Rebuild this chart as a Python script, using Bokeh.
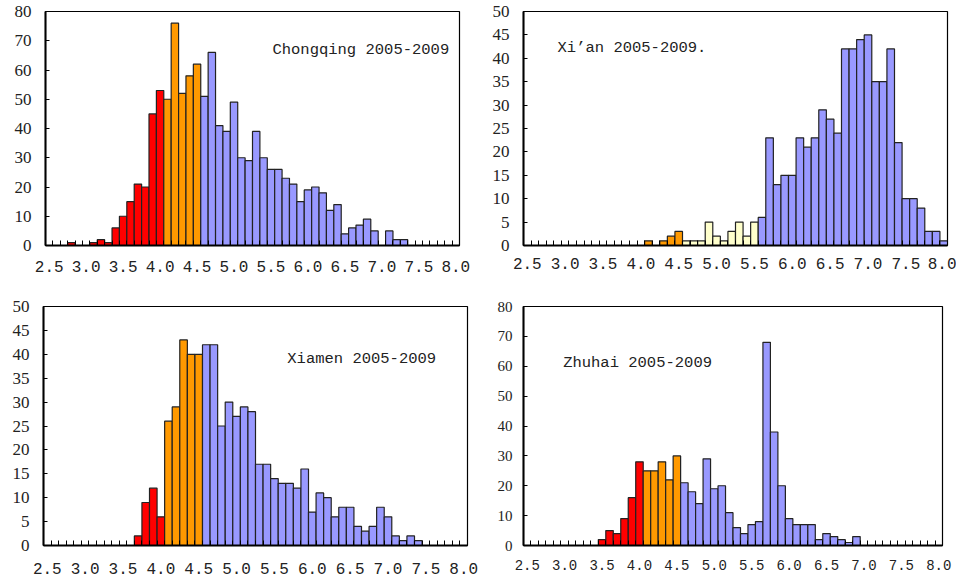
from bokeh.plotting import figure
from bokeh.models import FixedTicker, PrintfTickFormatter, Label, ColumnDataSource
from bokeh.layouts import column, row
from bokeh.embed import file_html
from bokeh.resources import INLINE

# magnitude bins (category labels)
bins = [2.5, 2.6, 2.7, 2.8, 2.9, 3.0, 3.1, 3.2, 3.3, 3.4,
        3.5, 3.6, 3.7, 3.8, 3.9, 4.0, 4.1, 4.2, 4.3, 4.4,
        4.5, 4.6, 4.7, 4.8, 4.9, 5.0, 5.1, 5.2, 5.3, 5.4,
        5.5, 5.6, 5.7, 5.8, 5.9, 6.0, 6.1, 6.2, 6.3, 6.4,
        6.5, 6.6, 6.7, 6.8, 6.9, 7.0, 7.1, 7.2, 7.3, 7.4,
        7.5, 7.6, 7.7, 7.8, 7.9, 8.0]

tick_labels = [2.5, 3.0, 3.5, 4.0, 4.5, 5.0, 5.5, 6.0, 6.5, 7.0, 7.5, 8.0]

chongqing = [0, 0, 0, 1, 0, 0, 1, 2, 1, 6,
             10, 15, 21, 20, 45, 53, 50, 76, 52, 58,
             62, 51, 66, 41, 39, 49, 30, 29, 39, 30,
             26, 26, 23, 21, 15, 19, 20, 18, 12, 14,
             4, 6, 7, 9, 5, 0, 5, 2, 2, 0,
             0, 0, 0, 0, 0, 0]

xian = [0, 0, 0, 0, 0, 0, 0, 0, 0, 0,
        0, 0, 0, 0, 0, 0, 1, 0, 1, 2,
        3, 1, 1, 1, 5, 2, 1, 3, 5, 2,
        5, 6, 23, 13, 15, 15, 23, 21, 23, 29,
        27, 24, 42, 42, 44, 45, 35, 35, 42, 22,
        10, 10, 8, 3, 3, 1]

xiamen = [0, 0, 0, 0, 0, 0, 0, 0, 0, 0,
          0, 0, 2, 9, 12, 6, 26, 29, 43, 40,
          40, 42, 42, 25, 30, 27, 29, 28, 17, 17,
          14, 13, 13, 12, 16, 7, 11, 10, 6, 8,
          8, 4, 3, 4, 8, 6, 2, 1, 2, 1,
          0, 0, 0, 0, 0, 0]

zhuhai = [0, 0, 0, 0, 0, 0, 0, 0, 0, 0,
          2, 5, 4, 9, 16, 28, 25, 25, 28, 22,
          30, 21, 18, 14, 29, 19, 20, 11, 6, 4,
          7, 8, 68, 38, 20, 9, 7, 7, 7, 2,
          4, 3, 2, 1, 3, 0, 0, 0, 0, 0,
          0, 0, 0, 0, 0, 0]

# colour classes: (lower bin, colour) - bins from that value upward take the colour
RED, ORANGE, YELLOW, BLUE = "#FF0000", "#FF9900", "#FFFFCC", "#9999FF"
classes_std = [(0.0, RED), (4.1, ORANGE), (4.6, BLUE)]
classes_xian = [(0.0, RED), (4.1, ORANGE), (4.6, YELLOW), (5.6, BLUE)]


def colour_for(b, classes):
    c = classes[0][1]
    for lo, col in classes:
        if b >= lo - 1e-9:
            c = col
    return c


def make(counts, classes, ymax, ystep, title, tx, ty, w, h, bl, br, bt, bb,
         xfont, yfont, standoff, ystandoff):
    p = figure(width=w, height=h, output_backend="svg", toolbar_location=None,
               x_range=(2.45, 8.05), y_range=(0, ymax),
               min_border_left=bl, min_border_right=br,
               min_border_top=bt, min_border_bottom=bb)
    xs = [b for b, c in zip(bins, counts) if c > 0]
    ys = [c for c in counts if c > 0]
    cols = [colour_for(b, classes) for b, c in zip(bins, counts) if c > 0]
    src = ColumnDataSource(dict(x=xs, top=ys, color=cols))
    p.vbar(x="x", top="top", width=0.1, bottom=0, source=src,
           fill_color="color", line_color="#222222", line_width=1.2)
    p.grid.visible = False
    p.outline_line_color = "#000000"
    p.outline_line_width = 1.2
    p.background_fill_color = "white"
    p.border_fill_color = "white"

    minor = [round(b - 0.05, 2) for b in bins] + [round(bins[-1] + 0.05, 2)]
    xa = p.xaxis[0]
    xa.ticker = FixedTicker(ticks=tick_labels, minor_ticks=minor)
    xa.formatter = PrintfTickFormatter(format="%.1f")
    xa.major_tick_in = 0
    xa.major_tick_out = 0
    xa.minor_tick_in = 5
    xa.minor_tick_out = 0
    xa.minor_tick_line_color = "#000000"
    xa.axis_line_width = 2
    xa.axis_line_color = "#000000"
    xa.major_label_text_font = "Liberation Mono"
    xa.major_label_text_font_size = xfont
    xa.major_label_text_color = "#222222"
    xa.major_label_standoff = standoff

    ya = p.yaxis[0]
    ya.ticker = FixedTicker(ticks=list(range(0, ymax + 1, ystep)))
    ya.major_tick_in = 4
    ya.major_tick_out = 0
    ya.minor_tick_in = 0
    ya.minor_tick_out = 0
    ya.axis_line_width = 2
    ya.axis_line_color = "#000000"
    ya.major_label_text_font = "Liberation Serif"
    ya.major_label_text_font_size = yfont
    ya.major_label_text_color = "#222222"
    ya.major_label_standoff = ystandoff

    p.add_layout(Label(x=tx, y=ty, text=title, text_font="Liberation Mono",
                       text_font_size="15.5px", text_color="#222222",
                       text_baseline="middle", text_align="left"))
    return p


p1 = make(chongqing, classes_std, 80, 10, "Chongqing 2005-2009", 5.52, 66.7,
          478, 290, 45, 19, 10, 45, "16px", "17px", 15, 14)
p2 = make(xian, classes_xian, 50, 5, "Xi\u2019an 2005-2009.", 2.90, 42.2,
          478, 290, 45, 9, 11, 41, "16px", "17px", 12, 14)
p3 = make(xiamen, classes_std, 50, 5, "Xiamen 2005-2009", 5.67, 39.1,
          478, 292, 43, 11, 16, 37, "16px", "17px", 17, 14)
p4 = make(zhuhai, classes_std, 80, 10, "Zhuhai 2005-2009", 2.98, 61.1,
          478, 292, 45, 14, 15, 32, "14px", "15px", 14, 11)

layout = column(row(p1, p2, spacing=0), row(p3, p4, spacing=0), spacing=0)
open("out.html", "w").write(file_html(layout, INLINE))
